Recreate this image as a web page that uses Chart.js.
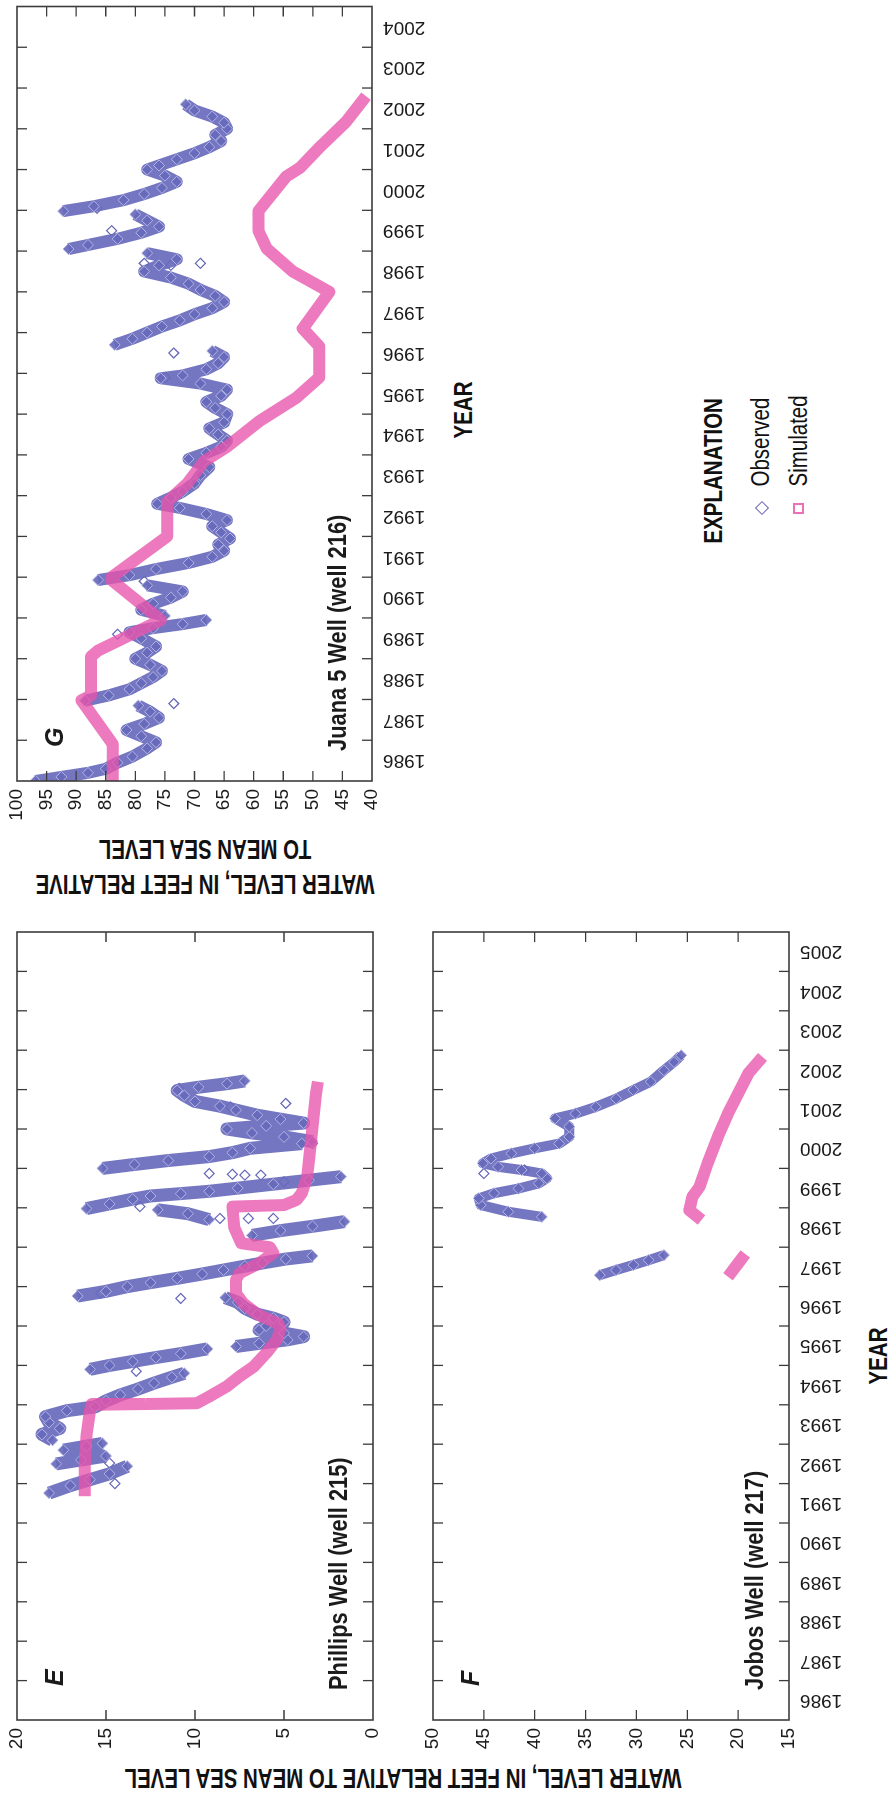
<!DOCTYPE html>
<html>
<head>
<meta charset="utf-8">
<title>Water levels, wells 215, 216, 217</title>
<script src="https://cdn.jsdelivr.net/npm/chart.js@4.4.1/dist/chart.umd.min.js"></script>
<style>
  html, body { margin: 0; padding: 0; background: #fff; }
  body { position: relative; width: 891px; height: 1794px; overflow: hidden; }
  .panel { position: absolute; transform-origin: 0 0; }
  .txt { position: absolute; white-space: nowrap; color: #111; line-height: 1; font-family: 'Liberation Sans', Arial, sans-serif; }
  .title { font-weight: bold; font-size: 28px; text-align: center;
           transform: translate(-50%, -50%) rotate(180deg) scaleX(0.73); }
  .up { transform: translate(-50%, -50%) rotate(-90deg) scaleX(0.82); }
  .upStart { transform-origin: 0 50%; transform: rotate(-90deg) scaleX(0.82); }
  .mark { position: absolute; box-sizing: border-box; }
</style>
</head>
<body>

<div class="panel" id="panelG"><canvas id="chartG"></canvas></div>
<div class="panel" id="panelE"><canvas id="chartE"></canvas></div>
<div class="panel" id="panelF"><canvas id="chartF"></canvas></div>

<div class="txt title" style="left:205px; top:867px; line-height:35px;">WATER LEVEL, IN FEET RELATIVE<br>TO MEAN SEA LEVEL</div>
<div class="txt title" style="left:403px; top:1778px;">WATER LEVEL, IN FEET RELATIVE TO MEAN SEA LEVEL</div>

<div class="txt up" style="left:463px; top:410px; font-size:25px; font-weight:bold;">YEAR</div>
<div class="txt up" style="left:878px; top:1356px; font-size:25px; font-weight:bold;">YEAR</div>

<div class="txt upStart" style="left:713px; top:531px; font-size:25px; font-weight:bold;">EXPLANATION</div>
<div class="mark" style="left:757px; top:503px; width:10px; height:10px; border:1.5px solid rgb(100,102,184); transform:rotate(45deg);"></div>
<div class="txt upStart" style="left:760px; top:474px; font-size:25px;">Observed</div>
<div class="mark" style="left:793px; top:503px; width:11px; height:11px; border:2px solid rgb(240,110,182);"></div>
<div class="txt upStart" style="left:798px; top:474px; font-size:25px;">Simulated</div>

<script>
// Phillips Well (well 215), panel E -- null marks a break between runs of observations
const phillipsObsYears = [1991.76, 1991.95, 1992.1, 1992.25, 1992.44, null,
  1992.5, 1992.6, 1992.7, null,
  1992.85, 1992.95, 1993.02, null,
  1993.1, 1993.25, 1993.4, 1993.55, 1993.7, 1993.85, 1993.95, 1994.1, 1994.25, 1994.4, 1994.55, 1994.7, 1994.8, null,
  1994.9, 1995.0, 1995.1, 1995.2, 1995.3, 1995.42, null,
  1995.48, 1995.56, 1995.65, 1995.73, 1995.82, 1995.9, 1996.0, 1996.1, 1996.2, 1996.3, 1996.45, 1996.6, 1996.72, null,
  1996.76, 1996.88, 1997.0, 1997.1, 1997.21, 1997.32, 1997.42, 1997.52, 1997.6, 1997.7, 1997.78, null,
  1998.3, 1998.42, 1998.53, 1998.65, null,
  1998.7, 1998.85, 1998.95, null,
  1998.98, 1999.1, 1999.22, 1999.3, 1999.36, 1999.42, 1999.5, 1999.6, 1999.7, 1999.79, null,
  2000.0, 2000.1, 2000.2, 2000.3, 2000.4, 2000.51, 2000.63, null,
  2000.68, 2000.8, 2000.9, 2001.0, 2001.08, 2001.15, 2001.25, 2001.35, 2001.48, 2001.58, 2001.7, 2001.85, 2001.98, 2002.06, 2002.15, 2002.22];
const phillipsObsLevels = [18.2, 17.0, 15.9, 14.8, 13.8, null,
  17.8, 16.4, 15.0, null,
  17.4, 16.1, 15.2, null,
  18.0, 18.6, 17.6, 18.2, 18.4, 17.2, 15.6, 15.0, 14.2, 13.2, 12.3, 11.3, 10.6, null,
  15.9, 14.8, 13.5, 12.2, 10.8, 9.3, null,
  7.7, 6.4, 4.8, 3.9, 5.0, 6.4, 6.0, 5.0, 5.6, 6.5, 7.2, 7.6, 8.3, null,
  16.6, 15.0, 13.8, 12.5, 11.0, 9.6, 8.4, 7.2, 6.2, 4.9, 3.4, null,
  6.8, 5.2, 3.4, 1.6, null,
  9.2, 10.4, 12.1, null,
  16.1, 14.8, 13.5, 12.5, 10.8, 9.2, 7.6, 5.6, 3.6, 1.8, null,
  15.2, 13.4, 11.5, 9.2, 7.9, 6.9, 4.0, null,
  3.4, 5.0, 6.8, 8.2, 6.0, 3.9, 5.2, 6.5, 7.7, 8.6, 10.0, 10.6, 11.0, 9.8, 8.2, 7.2];
const phillipsLoneYears = [1992.0, 1992.52, 1994.85, 1996.7, 1996.83, 1998.73, 1998.73, 1998.73, 1999.03, 1999.66, 1999.83, 1999.83, 1999.85, 1999.87, 2000.63, 2001.56, 2001.65, 2002.03];
const phillipsLoneLevels = [14.5, 14.8, 13.3, 10.8, 15.3, 8.6, 7.0, 5.6, 13.1, 5.0, 7.2, 6.3, 7.9, 9.2, 3.4, 8.0, 4.9, 10.9];
const phillipsSimYears = [1991.68, 1992.5, 1993.2, 1993.85, 1994.0, 1994.02, 1994.04, 1994.21, 1994.47, 1994.72, 1994.97, 1995.31, 1995.65, 1995.9, 1996.05, 1996.3, 1996.58, 1996.83, 1997.17, 1997.34, 1997.59, 1997.85, 1998.0, 1998.1, 1998.5, 1999.03, 1999.07, 1999.2, 1999.37, 1999.79, 2000.21, 2000.63, 2001.06, 2001.48, 2001.9, 2002.2];
const phillipsSimLevels = [16.2, 16.2, 16.1, 15.9, 15.8, 12.8, 9.9, 9.2, 8.2, 7.5, 6.7, 6.0, 5.4, 5.2, 5.3, 6.5, 7.3, 7.7, 7.7, 7.5, 6.4, 5.6, 5.8, 7.4, 7.8, 7.9, 5.0, 4.3, 4.0, 3.7, 3.6, 3.5, 3.4, 3.3, 3.2, 3.1];

// Jobos Well (well 217), panel F
const jobosObsYears = [1997.29, 1997.42, 1997.55, 1997.67, 1997.8, null,
  1998.77, 1998.9, 1999.07, 1999.24, 1999.37, 1999.49, 1999.62, 1999.75, 1999.87, 1999.96, 2000.04, 2000.13, 2000.25, 2000.38,
  2000.51, 2000.63, 2000.8, 2001.06, 2001.27, 2001.39, 2001.56, 2001.77, 2001.99, 2002.2, 2002.49, 2002.7, 2002.87];
const jobosObsLevels = [33.6, 32.0, 30.3, 28.8, 27.3, null,
  39.3, 42.6, 45.3, 45.5, 44.0, 41.6, 39.6, 38.8, 39.3, 41.3, 43.6, 45.1, 44.3, 42.3,
  40.0, 37.6, 36.6, 36.6, 38.0, 36.0, 34.0, 32.0, 30.3, 28.6, 27.3, 26.3, 25.6];
const jobosLoneYears = [1999.87, 1999.96];
const jobosLoneLevels = [45.0, 41.0];
const jobosSimYears = [1997.25, 1997.59, 1997.83, null, 1998.69, 1998.94, 1999.28, 1999.53, 2000.13, 2000.8, 2001.39, 2001.9, 2002.41, 2002.83];
const jobosSimLevels = [21.0, 20.0, 19.3, null, 23.6, 24.8, 24.5, 23.8, 23.0, 22.0, 21.0, 20.0, 19.0, 17.6];

// Juana 5 Well (well 216), panel G
const juanaObsYears = [1986.0, 1986.1, 1986.2, 1986.3, 1986.45, 1986.6, 1986.8, 1986.95, 1987.1, 1987.25, 1987.4, 1987.55, 1987.7, 1987.85, null,
  1987.97, 1988.1, 1988.25, 1988.4, 1988.55, 1988.7, 1988.85, 1989.0, 1989.15, 1989.3, 1989.5, 1989.65, 1989.75, 1989.85, 1989.95, null,
  1990.05, 1990.2, 1990.35, 1990.5, 1990.65, 1990.8, null,
  1990.93, 1991.05, 1991.2, 1991.35, 1991.5, 1991.65, 1991.8, 1991.95, 1992.1, 1992.25, 1992.4, 1992.55, 1992.7, 1992.8, 1992.95,
  1993.1, 1993.3, 1993.5, 1993.7, 1993.9, 1994.05, 1994.2, 1994.35, 1994.5, 1994.65, 1994.8, 1995.0, 1995.15, 1995.3, 1995.45,
  1995.6, 1995.75, 1995.88, 1995.95, 1996.1, 1996.25, 1996.4, 1996.55, null,
  1996.7, 1996.85, 1997.0, 1997.15, 1997.3, 1997.45, 1997.6, 1997.75, 1997.9, 1998.05, 1998.2, 1998.35, 1998.5, 1998.65, 1998.8, 1998.95, null,
  1999.05, 1999.15, 1999.3, 1999.45, 1999.6, 1999.75, 1999.9, null,
  1999.98, 2000.1, 2000.25, 2000.4, 2000.55, 2000.7, 2000.85, 2001.0, 2001.1, 2001.25, 2001.4, 2001.55, 2001.7, 2001.85, 2002.0,
  2002.15, 2002.3, 2002.45, 2002.6];
const juanaObsLevels = [96.9, 92.5, 88.0, 85.0, 83.0, 80.5, 78.0, 76.5, 79.0, 81.5, 78.5, 76.0, 77.5, 79.5, null,
  88.5, 84.5, 81.0, 79.0, 77.0, 75.5, 77.5, 80.0, 78.0, 76.5, 79.0, 81.0, 77.0, 72.0, 68.0, null,
  75.0, 79.0, 77.0, 74.0, 72.0, 78.0, null,
  86.3, 81.0, 76.5, 71.0, 67.0, 65.0, 66.0, 64.0, 65.5, 67.0, 64.5, 68.0, 72.5, 76.3, 74.0,
  72.0, 70.0, 69.0, 67.5, 71.0, 68.0, 65.5, 64.5, 66.0, 67.5, 65.0, 64.5, 66.5, 68.0, 65.5,
  64.5, 69.0, 75.7, 72.0, 68.0, 66.0, 65.0, 67.0, null,
  83.5, 80.5, 78.0, 75.5, 72.5, 70.0, 67.0, 65.0, 66.5, 69.0, 71.0, 74.0, 78.5, 76.0, 73.0, 78.0, null,
  91.3, 88.0, 83.0, 79.0, 76.0, 78.0, 80.0, null,
  92.2, 87.0, 82.0, 78.5, 75.5, 73.0, 75.0, 78.0, 76.0, 73.0, 70.0, 67.5, 65.5, 66.5, 64.5,
  65.0, 67.0, 70.0, 71.5];
const juanaLoneYears = [1987.9, 1989.6, 1990.9, 1995.9, 1996.5, 1998.7, 1998.65, 1998.7, 1999.5, 2000.05];
const juanaLoneLevels = [73.5, 83.0, 78.5, 74.9, 73.5, 78.5, 74.0, 69.0, 84.0, 86.5];
const juanaSimYears = [1986.0, 1986.9, 1987.98, 1988.1, 1989.05, 1989.2, 1989.95, 1990.94, 1991.0, 1992.0, 1992.85, 1993.3, 1993.84, 1994.2, 1994.83, 1995.4, 1995.9, 1996.66, 1997.1, 1998.0, 1998.5, 1999.06, 1999.5, 1999.98, 2000.83, 2001.04, 2001.54, 2002.17, 2002.8];
const juanaSimLevels = [83.8, 83.8, 89.1, 87.5, 87.5, 86.3, 75.7, 84.1, 84.0, 74.6, 74.6, 71.2, 68.4, 64.5, 59.0, 52.8, 48.9, 48.9, 51.7, 47.2, 53.4, 57.8, 59.2, 59.2, 54.5, 52.2, 48.9, 44.4, 41.0];

// Year tick labels
const yearLabelsEF = [1986, 1987, 1988, 1989, 1990, 1991, 1992, 1993, 1994, 1995, 1996, 1997, 1998, 1999, 2000, 2001, 2002, 2003, 2004, 2005];
const yearLabelsG = [1986, 1987, 1988, 1989, 1990, 1991, 1992, 1993, 1994, 1995, 1996, 1997, 1998, 1999, 2000, 2001, 2002, 2003, 2004];

const SANS = "'Liberation Sans', Arial, sans-serif";
const obsColor = 'rgb(100,102,184)';
const bandColor = 'rgba(104,106,188,0.92)';
const simColor = 'rgba(232,84,172,0.78)';
const inkColor = '#1b1b1b';

// frame, inward ticks on all four sides, panel letter and well name
const boxTicks = {
  id: 'boxTicks',
  afterDatasetsDraw(chart, args, opts) {
    const { ctx, chartArea: a, scales: { x, y } } = chart;
    ctx.save();
    ctx.strokeStyle = '#3c3c3c';
    ctx.lineWidth = 1.6;
    ctx.strokeRect(a.left, a.top, a.right - a.left, a.bottom - a.top);
    ctx.lineWidth = 1.3;
    ctx.beginPath();
    for (let yr = x.min + 1; yr < x.max; yr++) {
      const px = x.getPixelForValue(yr);
      ctx.moveTo(px, a.bottom); ctx.lineTo(px, a.bottom - 10);
      ctx.moveTo(px, a.top); ctx.lineTo(px, a.top + 10);
    }
    for (let lv = y.min + 5; lv < y.max; lv += 5) {
      const py = y.getPixelForValue(lv);
      ctx.moveTo(a.left, py); ctx.lineTo(a.left + 10, py);
      ctx.moveTo(a.right, py); ctx.lineTo(a.right - 10, py);
    }
    ctx.stroke();
    ctx.fillStyle = inkColor;
    ctx.font = 'italic bold 25px ' + SANS;
    ctx.fillText(opts.letter, a.left + 34, a.top + 46);
    // condensed look for the well name
    ctx.translate(a.left + 30, a.bottom - 26);
    ctx.scale(0.84, 1);
    ctx.font = 'bold 26px ' + SANS;
    ctx.fillText(opts.well, 0, 0);
    ctx.restore();
  }
};

function pts(xs, ys) {
  return xs.map((x, i) => ({ x: x, y: ys[i] }));
}

// chart is drawn upright (years along x), then its box is turned 90 degrees counter-clockwise
function wellPanel(id, p) {
  const T = 12, L = 40;
  const W = L + p.plotW + p.R;
  const H = T + p.plotH + p.B;
  const canvas = document.getElementById('chart' + id);
  canvas.width = W; canvas.height = H;
  const box = document.getElementById('panel' + id);
  box.style.left = (p.screenX - T) + 'px';
  box.style.top = (p.screenBottom - p.plotW - p.R) + 'px';
  box.style.transform = 'translate(0px,' + W + 'px) rotate(-90deg)';

  const tickFont = { family: SANS, size: 19 };
  return new Chart(canvas, {
    type: 'scatter',
    data: {
      datasets: [
        { label: 'Simulated', data: pts(p.simYears, p.simLevels), showLine: true, borderColor: simColor,
          borderWidth: 12, borderJoinStyle: 'round', borderCapStyle: 'butt', pointRadius: 0, order: 0 },
        { label: 'Observed', data: pts(p.obsYears, p.obsLevels), showLine: true, borderColor: bandColor,
          borderWidth: p.band, borderJoinStyle: 'round', pointStyle: 'rectRot', pointRadius: 5.5,
          pointBorderWidth: 1, pointBorderColor: 'rgb(178,180,228)', pointBackgroundColor: bandColor, order: 1 },
        { label: 'Observed', data: pts(p.loneYears, p.loneLevels), showLine: false, pointStyle: 'rectRot',
          pointRadius: 5, pointBorderWidth: 1.2, pointBorderColor: obsColor, pointBackgroundColor: 'rgba(0,0,0,0)', order: 2 }
      ]
    },
    options: {
      responsive: false,
      animation: false,
      devicePixelRatio: 1,
      events: [],
      layout: { padding: { top: T, right: p.R, bottom: 0, left: 0 } },
      plugins: {
        legend: { display: false },
        tooltip: { enabled: false },
        boxTicks: { letter: p.letter, well: p.well }
      },
      scales: {
        x: {
          type: 'linear', min: p.xMin, max: p.xMax,
          grid: { display: false, drawTicks: false }, border: { display: false },
          afterBuildTicks: s => { s.ticks = p.labels.map(yr => ({ value: yr + 0.5 })); },
          afterFit: s => { s.height = p.B; s.paddingLeft = 0; s.paddingRight = 0; },
          ticks: {
            display: p.showYears, autoSkip: false, minRotation: 90, maxRotation: 90, padding: 11,
            color: inkColor, font: tickFont, callback: (v, i) => String(p.labels[i])
          }
        },
        y: {
          min: p.yMin, max: p.yMax,
          grid: { display: false, drawTicks: false }, border: { display: false },
          afterFit: s => { s.width = L; s.paddingTop = 0; s.paddingBottom = 0; },
          ticks: { stepSize: 5, padding: 8, color: inkColor, font: tickFont }
        }
      }
    },
    plugins: [boxTicks]
  });
}

wellPanel('G', {
  screenX: 17, screenBottom: 781, plotW: 775, plotH: 355, R: 6, B: 60, band: 12,
  xMin: 1986, xMax: 2005, yMin: 40, yMax: 100, labels: yearLabelsG, showYears: true,
  letter: 'G', well: 'Juana 5 Well (well 216)',
  obsYears: juanaObsYears, obsLevels: juanaObsLevels, loneYears: juanaLoneYears, loneLevels: juanaLoneLevels,
  simYears: juanaSimYears, simLevels: juanaSimLevels
});

wellPanel('E', {
  screenX: 17, screenBottom: 1720, plotW: 788, plotH: 356, R: 12, B: 12, band: 13,
  xMin: 1986, xMax: 2006, yMin: 0, yMax: 20, labels: yearLabelsEF, showYears: false,
  letter: 'E', well: 'Phillips Well (well 215)',
  obsYears: phillipsObsYears, obsLevels: phillipsObsLevels, loneYears: phillipsLoneYears, loneLevels: phillipsLoneLevels,
  simYears: phillipsSimYears, simLevels: phillipsSimLevels
});

wellPanel('F', {
  screenX: 433, screenBottom: 1720, plotW: 788, plotH: 356, R: 12, B: 60, band: 10,
  xMin: 1986, xMax: 2006, yMin: 15, yMax: 50, labels: yearLabelsEF, showYears: true,
  letter: 'F', well: 'Jobos Well (well 217)',
  obsYears: jobosObsYears, obsLevels: jobosObsLevels, loneYears: jobosLoneYears, loneLevels: jobosLoneLevels,
  simYears: jobosSimYears, simLevels: jobosSimLevels
});
</script>
</body>
</html>
